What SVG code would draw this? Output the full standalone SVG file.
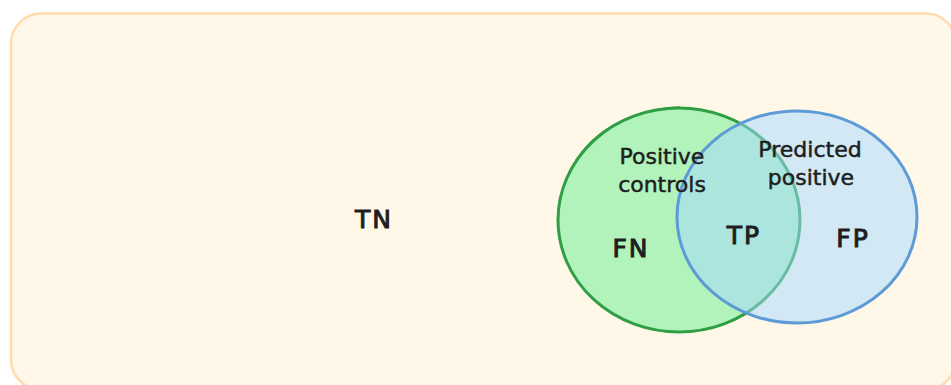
<svg xmlns="http://www.w3.org/2000/svg" width="951" height="385" viewBox="0 0 951 385">
<style>
.lbl{font-family:"DejaVu Sans","Liberation Sans",sans-serif;fill:#1e1e1e;stroke:#1e1e1e;text-anchor:middle}
.small{font-size:22px;stroke-width:0.5px}
.big{font-size:25px;letter-spacing:2px;stroke-width:1px}
</style>
<rect width="951" height="385" fill="#ffffff"/>
<g id="universe">
<rect x="11" y="13.5" width="945" height="376" rx="30" fill="#fff8e9" stroke="#ffdcae" stroke-width="2.5"/>
<text class="lbl big" x="374" y="228">TN</text>
</g>
<g id="positive-controls">
<ellipse cx="679" cy="220" rx="121" ry="112" fill="#b2f2bb" stroke="#2f9e44" stroke-width="3"/>
<path d="M566,182 C580,140 620,110 680,107" fill="none" stroke="#2f9e44" stroke-width="1.5"/>
</g>
<g id="predicted-positive">
<ellipse cx="797" cy="217" rx="120" ry="106" fill="#a5d8ff" fill-opacity="0.5" stroke="#5d9bd6" stroke-width="3"/>
</g>
<g id="labels">
<text class="lbl small" x="662" y="164">Positive</text>
<text class="lbl small" x="662" y="192">controls</text>
<text class="lbl small" x="810" y="157">Predicted</text>
<text class="lbl small" x="811" y="185">positive</text>
<text class="lbl big" x="631" y="257">FN</text>
<text class="lbl big" x="744" y="244">TP</text>
<text class="lbl big" x="853" y="247">FP</text>
</g>
<g id="connectors"/>
</svg>
